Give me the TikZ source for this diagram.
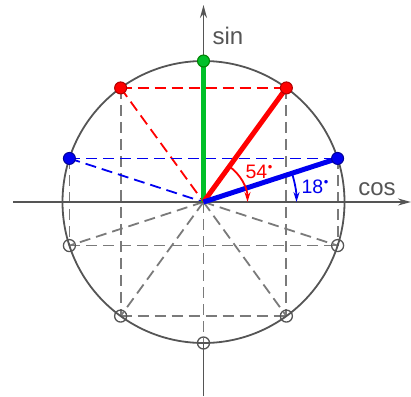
\documentclass[tikz,border=0pt]{standalone}
\usepackage{fontspec}
\setmainfont{Liberation Sans}
\usetikzlibrary{arrows.meta,calc}
\definecolor{cgreen}{HTML}{00C028}
\definecolor{cred}{HTML}{FF0000}
\definecolor{cblue}{HTML}{0000F0}
\definecolor{cgray}{HTML}{7A7A7A}
\definecolor{cdark}{HTML}{555555}
\tikzset{
  dsh/.style={dashed, dash pattern=on 11pt off 6pt, line width=1.8pt},
  gdsh/.style={dsh, draw=cgray},
  rdsh/.style={dsh, draw=cred},
  bdsh/.style={dsh, draw=cblue},
  thickline/.style={line width=5pt},
  fdot/.style={circle, inner sep=0pt, minimum size=12pt, line width=1pt},
  hdot/.style={circle, inner sep=0pt, minimum size=12pt, draw=cdark, line width=1.3pt},
  axis/.style={draw=cdark, line width=1.6pt, -{Stealth[length=13pt,width=7pt]}},
  anglearc/.style={line width=1.8pt, -{Stealth[length=10pt,width=6pt]}},
  axlabel/.style={text=cdark, font=\fontsize{24}{24}\selectfont, inner sep=0pt},
  anglabel/.style={font=\fontsize{19.5}{19.5}\selectfont, inner sep=0pt}
}
\newcommand{\degdot}{\kern0.5pt\raisebox{7.5pt}{\fontsize{13}{13}\selectfont\textbullet}}
\begin{document}
\begin{tikzpicture}[x=1pt,y=-1pt]
\useasboundingbox (0,0) rectangle (411,396);
\coordinate (O) at (203.5,202);
\def\R{141}
% point coordinates
\foreach \a/\n in {90/p90,54/p54,126/p126,18/p18,162/p162,198/p198,234/p234,270/p270,306/p306,342/p342}{
  \coordinate (\n) at ($(O)+({\R*cos(\a)},{-\R*sin(\a)})$);
}
\coordinate (axL) at (13,202);
\coordinate (axR) at (411,202);
\coordinate (axB) at (203.5,396);
\coordinate (axT) at (203.5,5);
% dashed gray
\draw[gdsh] (p126) -- (p234);
\draw[gdsh] (p54) -- (p306);
\draw[gdsh] (p162) -- (p198);
\draw[gdsh] (p18) -- (p342);
\draw[gdsh] (p198) -- (p342);
\draw[gdsh] (p234) -- (p306);
\foreach \n in {p198,p234,p270,p306,p342}{ \draw[gdsh] (O) -- (\n); }
% colored dashed
\draw[rdsh] (p126) -- (p54);
\draw[rdsh] (p126) -- (O);
\draw[bdsh] (p162) -- (p18);
\draw[bdsh] (p162) -- (O);
% circle
\draw[cdark, line width=1.8pt] (O) circle (\R);
% axes
\draw[axis] (axL) -- (axR);
\draw[cdark, line width=1.6pt] (axB) -- (p270);
\draw[axis] (O) -- (axT);
% thick lines
\draw[thickline, cgreen] (O) -- (p90);
\draw[thickline, cred] (O) -- (p54);
\draw[thickline, cblue] (O) -- (p18);
% angle arcs
\draw[anglearc, cred] ($(O)+({44*cos(54)},{-44*sin(54)})$) arc[start angle=-54, end angle=0, radius=44];
\draw[anglearc, cblue] ($(O)+({93*cos(18)},{-93*sin(18)})$) arc[start angle=-18, end angle=0, radius=93];
% dots
\node[fdot, fill=cgreen, draw=green!50!black] (d90) at (p90) {};
\node[fdot, fill=cred, draw=red!70!black] (d54) at (p54) {};
\node[fdot, fill=cred, draw=red!70!black] (d126) at (p126) {};
\node[fdot, fill=cblue, draw=blue!60!black] (d18) at (p18) {};
\node[fdot, fill=cblue, draw=blue!60!black] (d162) at (p162) {};
\foreach \n in {p198,p234,p270,p306,p342}{ \node[hdot] (h\n) at (\n) {}; }
% labels
\node[axlabel] (lsin) at (228,36) {sin};
\node[axlabel] (lcos) at (377,189) {cos};
\node[anglabel, text=cred] (l54) at (259,172) {54\degdot};
\node[anglabel, text=cblue] (l18) at (315,187) {18\degdot};
\end{tikzpicture}
\end{document}
